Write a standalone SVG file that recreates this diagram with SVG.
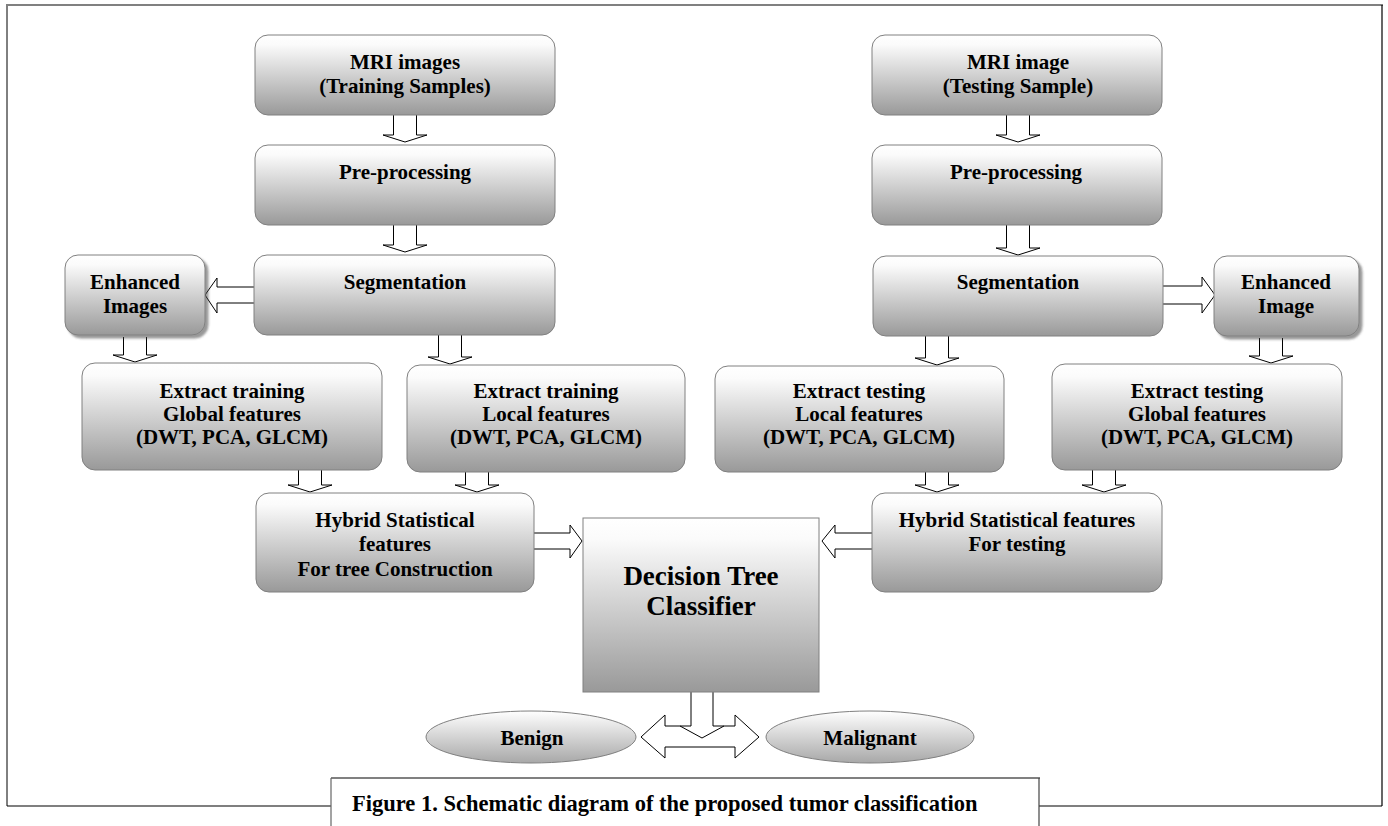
<svg xmlns="http://www.w3.org/2000/svg" width="1388" height="826" viewBox="0 0 1388 826">
<defs>
<linearGradient id="gb" x1="0" y1="0" x2="0" y2="1">
<stop offset="0" stop-color="#ffffff"/>
<stop offset="0.12" stop-color="#fbfbfb"/>
<stop offset="1" stop-color="#999999"/>
</linearGradient>
<linearGradient id="ge" x1="0" y1="0" x2="0" y2="1">
<stop offset="0" stop-color="#ffffff"/>
<stop offset="1" stop-color="#a8a8a8"/>
</linearGradient>
<filter id="sh" x="-10%" y="-10%" width="130%" height="130%">
<feDropShadow dx="3" dy="3" stdDeviation="1.2" flood-color="#444" flood-opacity="0.55"/>
</filter>
</defs>
<style>
.box{fill:url(#gb);stroke:#808080;stroke-width:1}
.ell{fill:url(#ge);stroke:#808080;stroke-width:1}
.arr{fill:#fff;stroke:#000;stroke-width:1}
.t{font-family:"Liberation Serif","Times New Roman",serif;font-weight:bold;font-size:21px;text-anchor:middle;fill:#000}
.big{font-size:27px}
.cap{text-anchor:start;font-size:22.5px}
</style>
<rect x="0" y="0" width="1388" height="826" fill="#fff"/>

<g id="frame">
<line x1="7" y1="5" x2="7" y2="806" stroke="#000" stroke-width="1"/>
<line x1="6" y1="5" x2="1383" y2="5" stroke="#808080" stroke-width="2"/>
<line x1="1382" y1="5" x2="1382" y2="806" stroke="#000" stroke-width="1.2"/>
<line x1="7" y1="806" x2="331" y2="806" stroke="#000" stroke-width="1.2"/>
<line x1="1039" y1="806" x2="1382" y2="806" stroke="#000" stroke-width="1.2"/>
</g>

<g id="caption">
<line x1="331" y1="778" x2="1040" y2="778" stroke="#808080" stroke-width="2"/>
<line x1="331" y1="778" x2="331" y2="826" stroke="#666" stroke-width="1.2"/>
<line x1="1039" y1="778" x2="1039" y2="826" stroke="#444" stroke-width="1.2"/>
<text class="t cap" x="352" y="811">Figure 1. Schematic diagram of the proposed tumor classification</text>
</g>

<g id="connectors">
<path class="arr" d="M393.5,115 V135 H383 L405,142 L427,135 H416.5 V115"/>
<path class="arr" d="M393.5,225 V245 H383 L405,252 L427,245 H416.5 V225"/>
<path class="arr" d="M123.5,337 V355 H113 L135,362 L157,355 H146.5 V337"/>
<path class="arr" d="M438.5,335 V357 H428 L450,364 L472,357 H461.5 V335"/>
<path class="arr" d="M298.5,470 V485 H288 L310,492 L332,485 H321.5 V470"/>
<path class="arr" d="M465.5,472 V485 H455 L477,492 L499,485 H488.5 V472"/>
<path class="arr" d="M1006.5,115 V135 H996 L1018,142 L1040,135 H1029.5 V115"/>
<path class="arr" d="M1006.5,225 V248 H996 L1018,255 L1040,248 H1029.5 V225"/>
<path class="arr" d="M925.5,336 V358 H915 L937,365 L959,358 H948.5 V336"/>
<path class="arr" d="M1259.5,338 V356 H1249 L1271,363 L1293,356 H1282.5 V338"/>
<path class="arr" d="M925.5,472 V485 H915 L937,492 L959,485 H948.5 V472"/>
<path class="arr" d="M1092.5,470 V485 H1082 L1104,492 L1126,485 H1115.5 V470"/>
<path class="arr" d="M254,287 H217 V278 L205,295 L217,313 V303 H254"/>
<path class="arr" d="M1163,286 H1202 V277 L1215,295 L1202,313 V304 H1163"/>
<path class="arr" d="M534,533 H570 V525 L582,541 L570,558 V549 H534"/>
<path class="arr" d="M872,533 H835 V525 L822,541 L835,558 V549 H872"/>
<path d="M641,737 L665,715 V726 H735 V715 L759,737 L735,758 V747 H665 V758 Z" fill="#fff" stroke="none"/>
<rect x="691" y="692" width="22" height="35" fill="#fff"/>
<path d="M691,692 V726 H665 V715 L641,737 L665,758 V747 H735 V758 L759,737 L735,715 V726 H713 V692" fill="none" stroke="#000" stroke-width="1"/>
<path d="M680,726 L702,738 L724,726" fill="none" stroke="#000" stroke-width="1"/>
</g>

<g id="train_mri"><rect class="box" x="255" y="35" width="300" height="80" rx="13"/>
<text class="t" x="405" y="69">MRI images</text><text class="t" x="405" y="93">(Training Samples)</text></g>
<g id="train_pre"><rect class="box" x="255" y="145" width="300" height="80" rx="13"/>
<text class="t" x="405" y="179">Pre-processing</text></g>
<g id="train_seg"><rect class="box" x="254" y="255" width="301" height="80" rx="13"/>
<text class="t" x="405" y="289">Segmentation</text></g>
<g id="train_enh"><rect class="box" x="65" y="255" width="140" height="80" rx="13" filter="url(#sh)"/>
<text class="t" x="135" y="289">Enhanced</text><text class="t" x="135" y="313">Images</text></g>
<g id="train_global"><rect class="box" x="82" y="363" width="300" height="107" rx="13"/>
<text class="t" x="232" y="398">Extract training</text><text class="t" x="232" y="421">Global features</text><text class="t" x="232" y="444">(DWT, PCA, GLCM)</text></g>
<g id="train_local"><rect class="box" x="407" y="365" width="278" height="107" rx="13"/>
<text class="t" x="546" y="398">Extract training</text><text class="t" x="546" y="421">Local features</text><text class="t" x="546" y="444">(DWT, PCA, GLCM)</text></g>
<g id="train_hybrid"><rect class="box" x="256" y="493" width="278" height="99" rx="13"/>
<text class="t" x="395" y="527">Hybrid Statistical</text><text class="t" x="395" y="551">features</text><text class="t" x="395" y="576">For tree Construction</text></g>

<g id="classifier"><rect class="box" x="583" y="518" width="236" height="174"/>
<text class="t big" x="701" y="585">Decision Tree</text><text class="t big" x="701" y="615">Classifier</text></g>

<g id="test_mri"><rect class="box" x="872" y="35" width="290" height="80" rx="13"/>
<text class="t" x="1018" y="69">MRI image</text><text class="t" x="1018" y="93">(Testing Sample)</text></g>
<g id="test_pre"><rect class="box" x="872" y="145" width="290" height="80" rx="13"/>
<text class="t" x="1016" y="179">Pre-processing</text></g>
<g id="test_seg"><rect class="box" x="873" y="256" width="290" height="80" rx="13"/>
<text class="t" x="1018" y="289">Segmentation</text></g>
<g id="test_enh"><rect class="box" x="1214" y="256" width="145" height="80" rx="13" filter="url(#sh)"/>
<text class="t" x="1286" y="289">Enhanced</text><text class="t" x="1286" y="313">Image</text></g>
<g id="test_local"><rect class="box" x="715" y="366" width="289" height="106" rx="13"/>
<text class="t" x="859" y="398">Extract testing</text><text class="t" x="859" y="421">Local features</text><text class="t" x="859" y="444">(DWT, PCA, GLCM)</text></g>
<g id="test_global"><rect class="box" x="1052" y="364" width="290" height="106" rx="13"/>
<text class="t" x="1197" y="398">Extract testing</text><text class="t" x="1197" y="421">Global features</text><text class="t" x="1197" y="444">(DWT, PCA, GLCM)</text></g>
<g id="test_hybrid"><rect class="box" x="872" y="493" width="290" height="99" rx="13"/>
<text class="t" x="1017" y="527">Hybrid Statistical features</text><text class="t" x="1017" y="551">For testing</text></g>

<g id="benign"><ellipse class="ell" cx="531" cy="737" rx="105" ry="26"/>
<text class="t" x="532" y="745">Benign</text></g>
<g id="malignant"><ellipse class="ell" cx="870" cy="737" rx="104" ry="26"/>
<text class="t" x="870" y="745">Malignant</text></g>
</svg>
